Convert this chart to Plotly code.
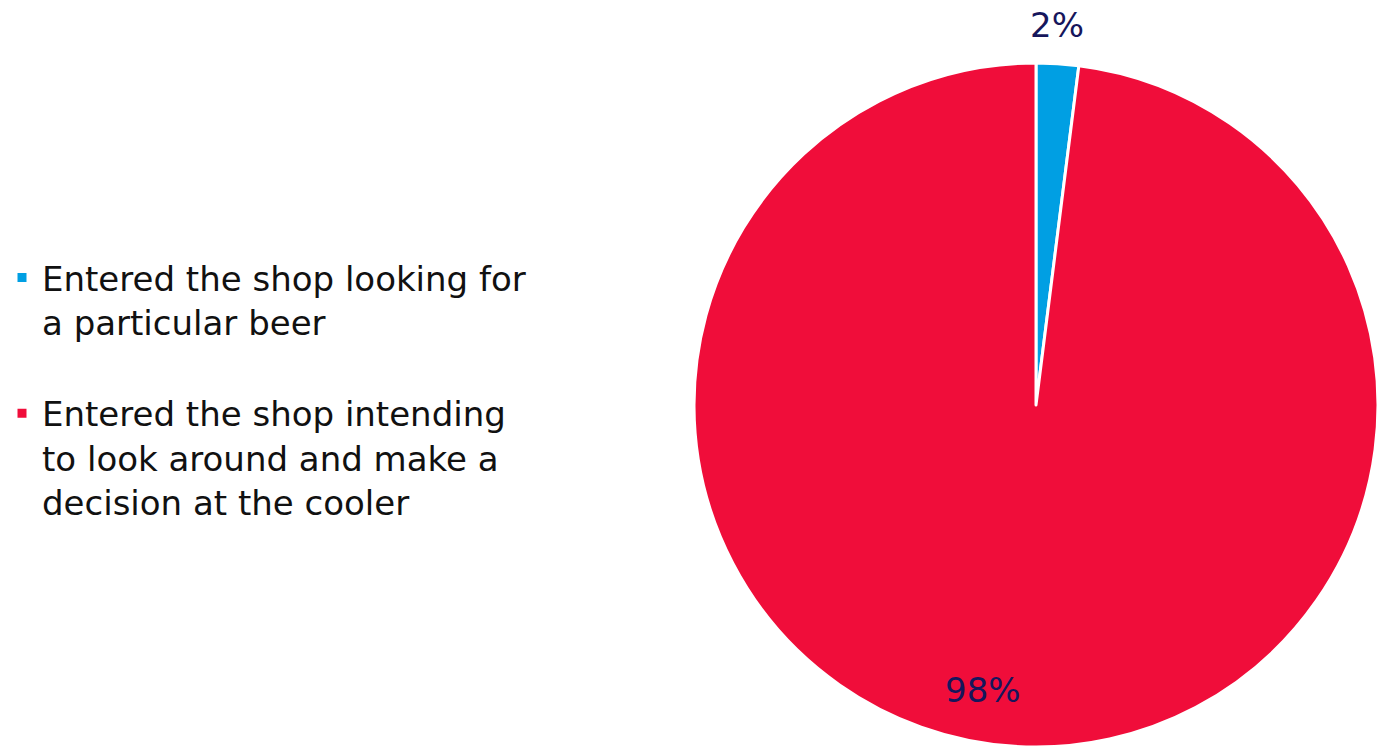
import plotly.graph_objects as go

# Share of shoppers by intent when entering the shop
labels = [
    "Entered the shop looking for<br>a particular beer<br>",
    "Entered the shop intending<br>to look around and make a<br>decision at the cooler",
]
values = [2, 98]
colors = ["#009fe3", "#f00d3a"]

W, H = 1378, 756
cx, cy = 1036, 405
half_w = W - cx
half_h = H - cy
total = sum(values)
pct_text = [f"{v / total:.0%}" for v in values]

fig = go.Figure(
    go.Pie(
        labels=labels,
        values=values,
        sort=False,
        direction="clockwise",
        rotation=0,
        marker=dict(colors=colors, line=dict(color="white", width=3)),
        textinfo="none",
        domain=dict(
            x=[(cx - half_w) / W, 1],
            y=[0, 1 - (cy - half_h) / H],
        ),
        hoverinfo="skip",
    )
)

# percentage labels: small slice above the pie, large slice near the bottom
label_pos = [(1057, 25), (983, 690)]
for txt, (px, py) in zip(pct_text, label_pos):
    fig.add_annotation(
        text=txt,
        x=px / W,
        y=1 - py / H,
        xref="paper",
        yref="paper",
        xanchor="center",
        yanchor="middle",
        showarrow=False,
        font=dict(family="DejaVu Sans", size=34, color="#16165c"),
    )

fig.update_layout(
    width=W,
    height=H,
    margin=dict(l=0, r=0, t=0, b=0),
    paper_bgcolor="white",
    plot_bgcolor="white",
    showlegend=True,
    legend=dict(
        x=2 / W,
        xanchor="left",
        y=1 - 249 / H,
        yanchor="top",
        valign="top",
        font=dict(family="DejaVu Sans", size=34, color="#111111"),
    ),
)

fig.write_html("out.html")
